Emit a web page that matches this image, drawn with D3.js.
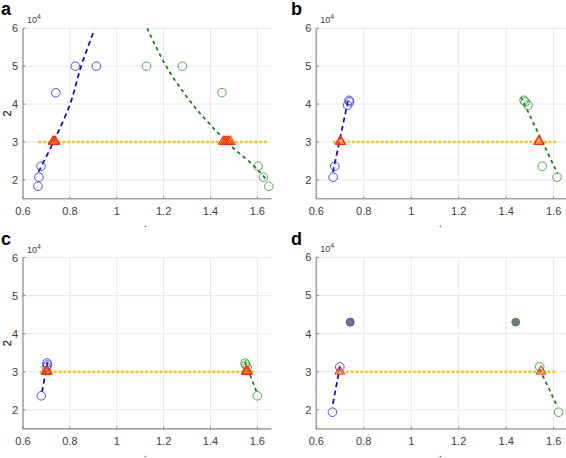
<!DOCTYPE html>
<html><head><meta charset="utf-8">
<script src="https://cdn.jsdelivr.net/npm/d3@7"></script>
<style>body{margin:0;background:#fff}svg{display:block;font-family:"Liberation Sans",Arial,sans-serif}</style>
</head><body><svg id="c" width="566" height="458"></svg>
<script>
// ---------- data ----------
const panelNames = ["a", "b", "c", "d"];
const xTicks = [0.6, 0.8, 1, 1.2, 1.4, 1.6];
const xTickLabels = ["0.6", "0.8", "1", "1.2", "1.4", "1.6"];
const yTicks = [20000, 30000, 40000, 50000, 60000];
const yTickLabels = ["2", "3", "4", "5", "6"];
const xDomain = [0.6, 1.66];
const yDomain = [15000, 60000];
const threshold = 30000;
const yLabel = "2";
const xLabel = ".";

// panel a
const blueA = [[0.823, 50000], [0.913, 50000], [0.740, 43000], [0.677, 23600], [0.668, 20700], [0.664, 18300]];
const greenA = [[1.127, 50000], [1.280, 50000], [1.449, 43000], [1.603, 23600], [1.626, 20700], [1.649, 18300]];
const blueFitA = [[0.666, 22100], [0.730, 30000], [0.801, 40000], [0.848, 50000], [0.905, 59700]];
const greenFitA = [[1.130, 60000], [1.211, 50000], [1.323, 40000], [1.470, 30000], [1.590, 23400], [1.636, 20300]];
const triA = [0.728, 0.733, 0.737, 1.455, 1.462, 1.470, 1.478, 1.485];
const thrA = [0.666, 1.644];
const filledA = [];

// panel b
const blueB = [[0.738, 41000], [0.740, 40600], [0.732, 39700], [0.678, 23600], [0.671, 20700]];
const greenB = [[1.475, 41000], [1.480, 40600], [1.492, 39700], [1.552, 23600], [1.614, 20700]];
const blueFitB = [[0.670, 22000], [0.737, 41900]];
const greenFitB = [[1.462, 41900], [1.617, 21600]];
const triB = [0.700, 0.703, 1.536, 1.540];
const thrB = [0.670, 1.617];
const filledB = [];

// panel c
const blueC = [[0.702, 32300], [0.704, 31800], [0.700, 31200], [0.678, 23700]];
const greenC = [[1.548, 32300], [1.551, 31800], [1.557, 31200], [1.600, 23700]];
const blueFitC = [[0.681, 24700], [0.705, 32600]];
const greenFitC = [[1.547, 32600], [1.597, 24700]];
const triC = [0.698, 0.701, 0.704, 1.552, 1.555, 1.558];
const thrC = [0.671, 1.594];
const filledC = [];

// panel d
const blueD = [[0.668, 19400], [0.699, 31300]];
const greenD = [[1.541, 31300], [1.621, 19400]];
const blueFitD = [[0.670, 21600], [0.699, 31200]];
const greenFitD = [[1.541, 30700], [1.617, 20700]];
const triD = [0.699, 1.547];
const thrD = [0.685, 1.611];
const filledD = [[0.743, 43000, "blue"], [1.440, 43000, "green"]];

const panelData = [
  {blue: blueA, green: greenA, blueFit: blueFitA, greenFit: greenFitA, tri: triA, thr: thrA, filled: filledA},
  {blue: blueB, green: greenB, blueFit: blueFitB, greenFit: greenFitB, tri: triB, thr: thrB, filled: filledB},
  {blue: blueC, green: greenC, blueFit: blueFitC, greenFit: greenFitC, tri: triC, thr: thrC, filled: filledC},
  {blue: blueD, green: greenD, blueFit: blueFitD, greenFit: greenFitD, tri: triD, thr: thrD, filled: filledD}
];

// ---------- layout ----------
const layout = [
  {left: 23, top: 28.3, w: 248.4, h: 170.5, lx: 1, ly: 15},
  {left: 316.3, top: 28.3, w: 251.6, h: 170.5, lx: 291, ly: 15},
  {left: 23, top: 257.6, w: 248.4, h: 171.3, lx: 1, ly: 245},
  {left: 316.3, top: 257.3, w: 251.6, h: 171.7, lx: 291, ly: 245}
];

const colBlueMk = "#3a3aff", colBlueLn = "#0000ff";
const colGreenMk = "#3fa23f", colGreenLn = "#0a800a";
const colThr = "#ffbf00", colTri = "#ff2a00";
const gridCol = "#e8e8e8", axisCol = "#a6a6a6", textCol = "#404040";

const svg = d3.select("#c");

panelNames.forEach((name, i) => {
  const L = layout[i], D = panelData[i];
  const x = d3.scaleLinear().domain(xDomain).range([L.left, L.left + L.w]);
  const y = d3.scaleLinear().domain(yDomain).range([L.top + L.h, L.top]);
  const g = svg.append("g");
  const bottom = L.top + L.h;

  // grid
  g.selectAll(".gx").data(xTicks).join("line")
    .attr("x1", d => x(d)).attr("x2", d => x(d)).attr("y1", L.top).attr("y2", bottom)
    .attr("stroke", gridCol).attr("stroke-width", 1);
  g.selectAll(".gy").data(yTicks).join("line")
    .attr("x1", L.left).attr("x2", L.left + L.w).attr("y1", d => y(d)).attr("y2", d => y(d))
    .attr("stroke", gridCol).attr("stroke-width", 1);

  // axes lines
  g.append("line").attr("x1", L.left).attr("x2", L.left).attr("y1", L.top).attr("y2", bottom + 0.5)
    .attr("stroke", axisCol).attr("stroke-width", 1.6);
  g.append("line").attr("x1", L.left).attr("x2", L.left + L.w).attr("y1", bottom).attr("y2", bottom)
    .attr("stroke", axisCol).attr("stroke-width", 1.6);
  // ticks (inward)
  g.selectAll(".tx").data(xTicks).join("line")
    .attr("x1", d => x(d)).attr("x2", d => x(d)).attr("y1", bottom).attr("y2", bottom - 2.5)
    .attr("stroke", "#888").attr("stroke-width", 1);
  g.selectAll(".ty").data(yTicks).join("line")
    .attr("x1", L.left).attr("x2", L.left + 2.5).attr("y1", d => y(d)).attr("y2", d => y(d))
    .attr("stroke", "#888").attr("stroke-width", 1);

  // tick labels
  g.selectAll(".lx").data(xTicks).join("text")
    .attr("x", d => x(d)).attr("y", bottom + 16)
    .attr("text-anchor", "middle").attr("font-size", 11).attr("fill", textCol)
    .text((d, j) => xTickLabels[j]);
  g.selectAll(".ly").data(yTicks).join("text")
    .attr("x", L.left - 5).attr("y", d => y(d) + 4)
    .attr("text-anchor", "end").attr("font-size", 11).attr("fill", textCol)
    .text((d, j) => yTickLabels[j]);

  // exponent
  const ex = g.append("text").attr("x", L.left + 4).attr("y", L.top - 5)
    .attr("font-size", 9).attr("fill", textCol);
  ex.append("tspan").text("10");
  ex.append("tspan").attr("font-size", 7).attr("dy", -4).text("4");

  // axis labels
  g.append("text").attr("transform", `translate(11,${y(37500)}) rotate(-90)`)
    .attr("text-anchor", "middle").attr("font-size", 11).attr("fill", "#404040").text(yLabel);
  g.append("text").attr("x", x(1.122)).attr("y", bottom + 28)
    .attr("text-anchor", "middle").attr("font-size", 11).attr("fill", "#262626").text(xLabel);

  // panel letter
  g.append("text").attr("x", L.lx).attr("y", L.ly)
    .attr("font-size", 18).attr("font-weight", "bold").attr("fill", "#000").text(name);

  // threshold line
  g.append("line").attr("x1", x(D.thr[0])).attr("x2", x(D.thr[1]))
    .attr("y1", y(threshold)).attr("y2", y(threshold))
    .attr("stroke", colThr).attr("stroke-width", 2.6).attr("stroke-dasharray", "2.6,2.2");

  // fits
  const line = d3.line().x(d => x(d[0])).y(d => y(d[1])).curve(d3.curveCatmullRom);
  g.append("path").attr("d", line(D.blueFit)).attr("fill", "none")
    .attr("stroke", colBlueLn).attr("stroke-width", 1.7).attr("stroke-dasharray", "5,3.5");
  g.append("path").attr("d", line(D.greenFit)).attr("fill", "none")
    .attr("stroke", colGreenLn).attr("stroke-width", 1.7).attr("stroke-dasharray", "3.5,3.5");

  // circles
  g.selectAll(".cb").data(D.blue).join("circle")
    .attr("cx", d => x(d[0])).attr("cy", d => y(d[1])).attr("r", 4.3)
    .attr("fill", "none").attr("stroke", colBlueMk).attr("stroke-width", 0.9);
  g.selectAll(".cg").data(D.green).join("circle")
    .attr("cx", d => x(d[0])).attr("cy", d => y(d[1])).attr("r", 4.3)
    .attr("fill", "none").attr("stroke", colGreenMk).attr("stroke-width", 0.9);

  // filled markers
  g.selectAll(".cf").data(D.filled).join("circle")
    .attr("cx", d => x(d[0])).attr("cy", d => y(d[1])).attr("r", 3.9)
    .attr("fill", "#767676").attr("stroke", d => d[2] === "blue" ? colBlueMk : colGreenMk).attr("stroke-width", 1);

  // triangles
  const tri = d3.symbol().type(d3.symbolTriangle).size(42);
  g.selectAll(".tr").data(D.tri).join("path")
    .attr("d", tri).attr("transform", d => `translate(${x(d)},${y(threshold) - 0.5})`)
    .attr("fill", "rgba(255,90,0,0.3)").attr("stroke", colTri).attr("stroke-width", 1);
});
</script></body></html>
